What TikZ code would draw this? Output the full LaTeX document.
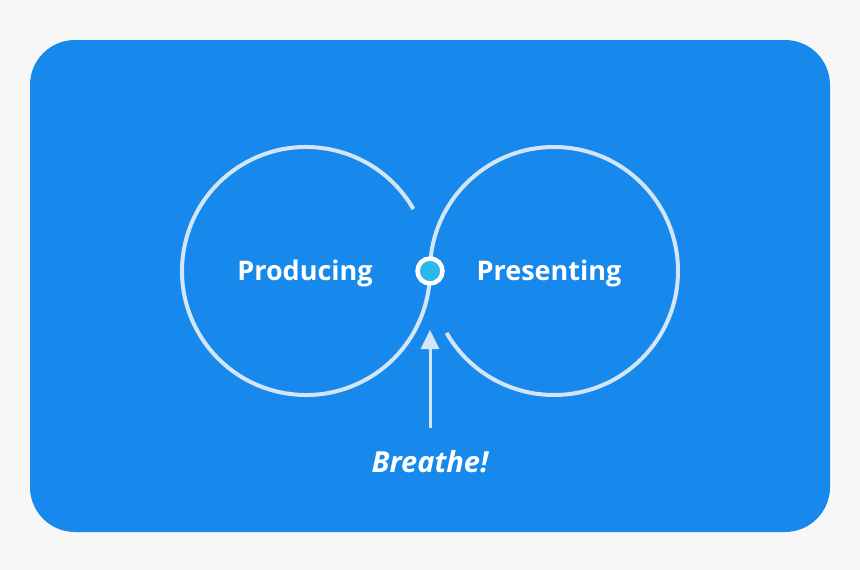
\documentclass[tikz,border=0pt]{standalone}
\usepackage{fontspec}
\setmainfont{Open Sans}
\usetikzlibrary{arrows.meta}
\definecolor{bgc}{HTML}{F7F7F7}
\definecolor{panel}{HTML}{1789EC}
\definecolor{ring}{HTML}{D2E6F8}
\definecolor{dotc}{HTML}{2BB9E9}
\tikzset{
  loop/.style={draw=ring, line width=4pt},
  lbl/.style={text=white, font=\fontsize{27}{32}\selectfont\bfseries},
  pointer/.style={draw=ring, line width=3pt, -{Triangle[width=18pt,length=19pt]}},
}
\begin{document}
\begin{tikzpicture}[x=1pt,y=-1pt]
\useasboundingbox (0,0) rectangle (860,570);
\fill[bgc] (0,0) rectangle (860,570);
\fill[panel, rounded corners=45pt] (30,40) rectangle (830,532);
\coordinate (lc) at (306,271);
\coordinate (rc) at (554,271);
% left loop: from upper right, over the top, round the left, to the meeting point
\draw[loop] (lc) ++(-30:124) arc[start angle=-30, end angle=-360, radius=124];
% right loop: from the meeting point, over the top, round the right, to lower left
\draw[loop] (rc) ++(180:124) arc[start angle=180, end angle=510, radius=124];
\node[lbl] (prod) at (305,273) {Producing};
\node[lbl] (pres) at (549,273) {Presenting};
\node[circle, fill=dotc, draw=white, line width=4.5pt, minimum size=25pt, inner sep=0pt] (dot) at (430,271) {};
\node[text=white, font=\fontsize{29}{34}\selectfont\bfseries\itshape] (breathe) at (430,462) {Breathe!};
\coordinate (tail) at (430,428);
\coordinate (tip) at (430,330);
\draw[pointer] (tail) -- (tip);
\end{tikzpicture}
\end{document}
